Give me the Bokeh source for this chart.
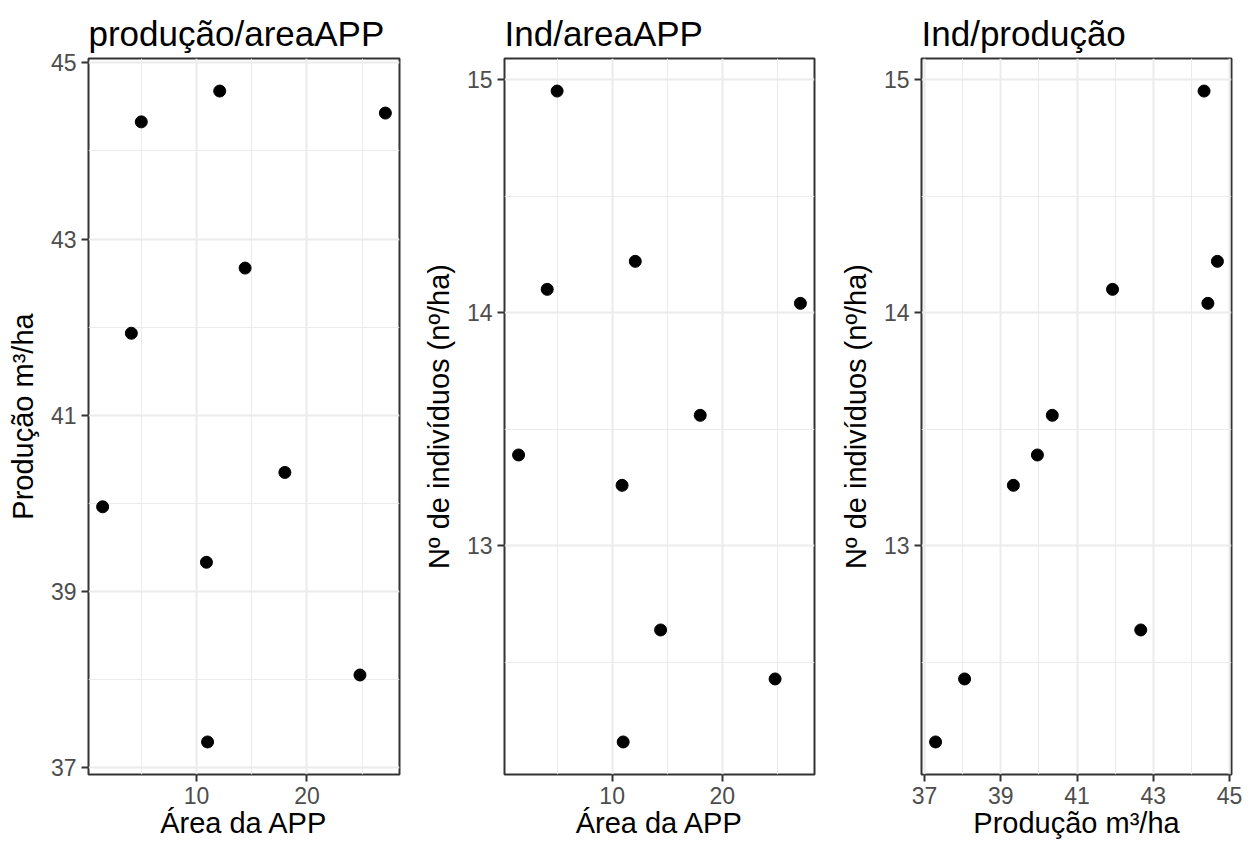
from bokeh.plotting import figure
from bokeh.layouts import row
from bokeh.models import Range1d, FixedTicker
from bokeh.embed import file_html
from bokeh.resources import INLINE

area_app = [5.0, 12.1, 27.1, 14.4, 4.1, 1.5, 18.0, 10.9, 24.8, 11.0]
producao = [44.33, 44.68, 44.43, 42.67, 41.93, 39.96, 40.35, 39.33, 38.05, 37.29]
individuos = [14.95, 14.22, 14.04, 12.64, 14.10, 13.39, 13.56, 13.26, 12.43, 12.16]

titles = ["produção/areaAPP", "Ind/areaAPP", "Ind/produção"]
xlabels = ["Área da APP", "Área da APP", "Produção m³/ha"]
ylabels = ["Produção m³/ha", "Nº de indivíduos (nº/ha)", "Nº de indivíduos (nº/ha)"]

area_ticks = [10, 20]
area_minor = [5, 15, 25]
prod_ticks = [37, 39, 41, 43, 45]
prod_minor = [38, 40, 42, 44]
ind_ticks = [13, 14, 15]
ind_minor = [12.5, 13.5, 14.5]

FONT = "Liberation Sans"
TICK_COL = "#4D4D4D"
BORDER_COL = "#333333"
GRID_COL = "#EBEBEB"
HEIGHT = 845


def expand(vals, f=0.05):
    lo, hi = min(vals), max(vals)
    d = (hi - lo) * f
    return Range1d(lo - d, hi + d)


def make_panel(x, y, xt, xm, yt, ym, title, xl, yl, width, left, right):
    p = figure(width=width, height=HEIGHT, output_backend="svg", toolbar_location=None,
               x_range=expand(x), y_range=expand(y),
               min_border_left=left, min_border_right=right,
               min_border_top=58, min_border_bottom=71)
    p.title.text = title
    p.title.text_font = FONT
    p.title.text_font_size = "35px"
    p.title.text_font_style = "normal"
    p.title.text_color = "black"
    p.title.align = "left"
    p.title.standoff = 11

    p.outline_line_color = BORDER_COL
    p.outline_line_width = 2
    p.background_fill_color = "white"
    p.border_fill_color = "white"

    p.xaxis.ticker = FixedTicker(ticks=xt, minor_ticks=xm)
    p.yaxis.ticker = FixedTicker(ticks=yt, minor_ticks=ym)

    for ax in (p.xaxis[0], p.yaxis[0]):
        ax.axis_line_color = None
        ax.major_tick_in = 0
        ax.major_tick_out = 7
        ax.major_tick_line_color = BORDER_COL
        ax.major_tick_line_width = 2
        ax.minor_tick_line_color = None
        ax.major_label_text_font = FONT
        ax.major_label_text_font_size = "23px"
        ax.major_label_text_color = TICK_COL
        ax.axis_label_text_font = FONT
        ax.axis_label_text_font_size = "29px"
        ax.axis_label_text_font_style = "normal"
        ax.axis_label_text_color = "black"
    p.xaxis.axis_label = xl
    p.yaxis.axis_label = yl
    p.xaxis.major_label_standoff = 5
    p.yaxis.major_label_standoff = 5
    p.xaxis.axis_label_standoff = 0
    p.yaxis.axis_label_standoff = 9

    for g in (p.xgrid[0], p.ygrid[0]):
        g.grid_line_color = GRID_COL
        g.grid_line_width = 2
        g.minor_grid_line_color = GRID_COL
        g.minor_grid_line_width = 1

    p.scatter(x, y, size=12, color="black")
    return p


p1 = make_panel(area_app, producao, area_ticks, area_minor, prod_ticks, prod_minor,
                titles[0], xlabels[0], ylabels[0], 414, 88, 15)
p2 = make_panel(area_app, individuos, area_ticks, area_minor, ind_ticks, ind_minor,
                titles[1], xlabels[1], ylabels[1], 415, 90, 15)
p3 = make_panel(producao, individuos, prod_ticks, prod_minor, ind_ticks, ind_minor,
                titles[2], xlabels[2], ylabels[2], 421, 92, 19)

layout = row(p1, p2, p3)
open("out.html", "w").write(file_html(layout, INLINE))
